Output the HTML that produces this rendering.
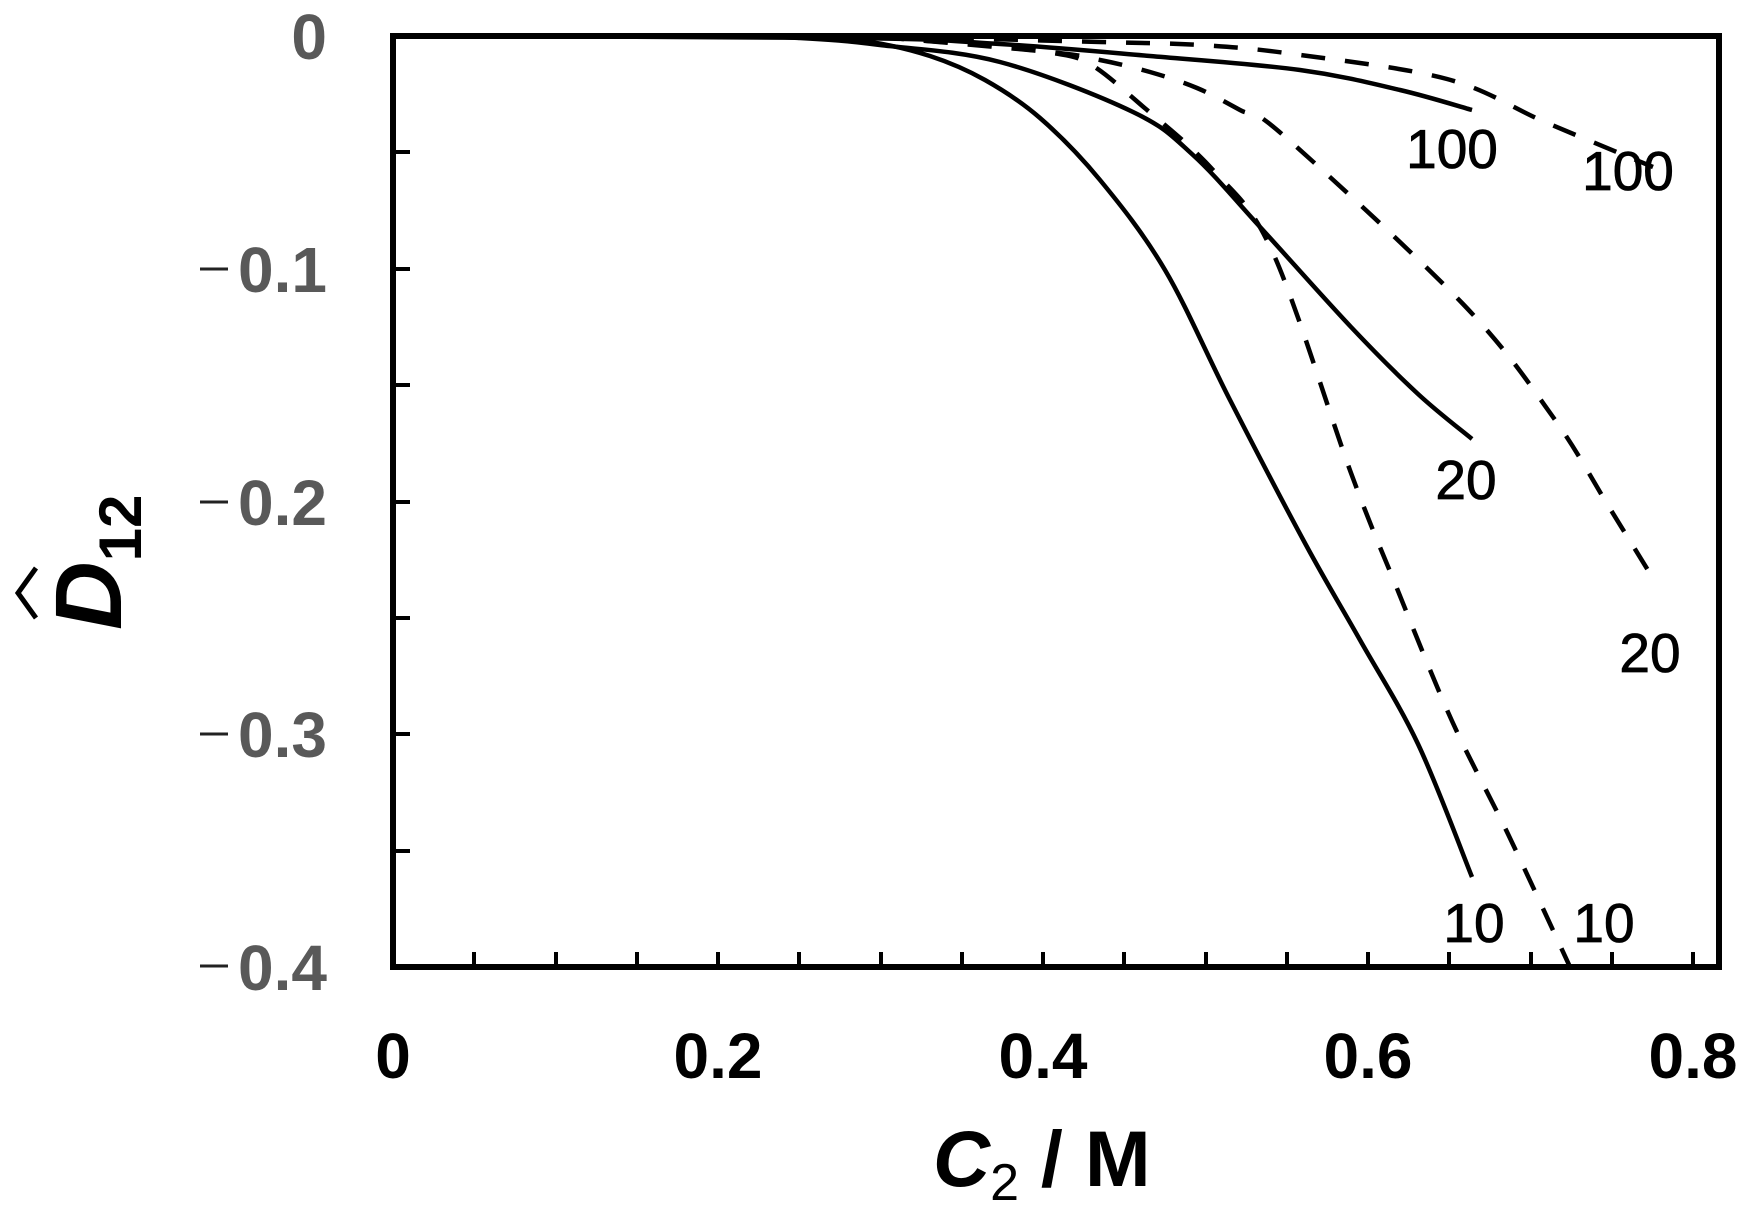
<!DOCTYPE html>
<html><head><meta charset="utf-8"><style>
html,body{margin:0;padding:0;background:#fff;}
svg{display:block;}
</style></head><body>
<svg width="1762" height="1220" viewBox="0 0 1762 1220" xmlns="http://www.w3.org/2000/svg">
<g fill="none" stroke="#000" stroke-width="4.5" stroke-linejoin="round" stroke-linecap="butt">
<path class="cr" data-p="393,36 700,36 800,37 870,42 930,56 985,80 1040,118 1100,180 1165,270 1230,400 1306,545 1360,640 1418,744 1472,877" d="M393,36 L700,36 L800,37 L870,42 L930,56 L985,80 L1040,118 L1100,180 L1165,270 L1230,400 L1306,545 L1360,640 L1418,744 L1472,877"/>
<path class="cr" data-p="393,36 700,36 800,38 880,45 1000,62 1133,112 1193,155 1261,228 1351,327 1418,394 1472,439" d="M393,36 L700,36 L800,38 L880,45 L1000,62 L1133,112 L1193,155 L1261,228 L1351,327 L1418,394 L1472,439"/>
<path class="cr" data-p="393,36 850,38 1000,44 1150,56 1300,70 1400,90 1472,110" d="M393,36 L850,38 L1000,44 L1150,56 L1300,70 L1400,90 L1472,110"/>
</g>
<g fill="none" stroke="#000" stroke-width="4.5" stroke-dasharray="24 20" stroke-linejoin="round">
<path class="cr" data-p="880,37 1000,47 1053,53 1090,64 1140,104 1213,170 1273,253 1351,473 1396,586 1452,721 1508,834 1570,967" d="M880,37 L1000,47 L1053,53 L1090,64 L1140,104 L1213,170 L1273,253 L1351,473 L1396,586 L1452,721 L1508,834 L1570,967"/>
<path class="cr" data-p="880,37 1050,52 1100,60 1150,72 1197,88 1240,110 1283,135 1463,304 1553,417 1609,507 1654,580" d="M880,37 L1050,52 L1100,60 L1150,72 L1197,88 L1240,110 L1283,135 L1463,304 L1553,417 L1609,507 L1654,580"/>
<path class="cr" data-p="950,38 1100,42 1200,45 1293,54 1447,79 1545,122 1653,167" d="M950,38 L1100,42 L1200,45 L1293,54 L1447,79 L1545,122 L1653,167"/>
</g>
<rect x="393" y="36" width="1326" height="931" fill="none" stroke="#000" stroke-width="6"/>
<g stroke="#000" stroke-width="4">
<line x1="393" y1="152" x2="410" y2="152"/>
<line x1="393" y1="269" x2="410" y2="269"/>
<line x1="393" y1="385" x2="410" y2="385"/>
<line x1="393" y1="502" x2="410" y2="502"/>
<line x1="393" y1="618" x2="410" y2="618"/>
<line x1="393" y1="734" x2="410" y2="734"/>
<line x1="393" y1="851" x2="410" y2="851"/>
<line x1="474" y1="967" x2="474" y2="952"/>
<line x1="556" y1="967" x2="556" y2="952"/>
<line x1="637" y1="967" x2="637" y2="952"/>
<line x1="718" y1="967" x2="718" y2="952"/>
<line x1="799" y1="967" x2="799" y2="952"/>
<line x1="881" y1="967" x2="881" y2="952"/>
<line x1="962" y1="967" x2="962" y2="952"/>
<line x1="1043" y1="967" x2="1043" y2="952"/>
<line x1="1124" y1="967" x2="1124" y2="952"/>
<line x1="1206" y1="967" x2="1206" y2="952"/>
<line x1="1287" y1="967" x2="1287" y2="952"/>
<line x1="1368" y1="967" x2="1368" y2="952"/>
<line x1="1449" y1="967" x2="1449" y2="952"/>
<line x1="1531" y1="967" x2="1531" y2="952"/>
<line x1="1612" y1="967" x2="1612" y2="952"/>
<line x1="1693" y1="967" x2="1693" y2="952"/>
</g>
<g font-family="Liberation Sans, sans-serif" font-weight="bold" font-size="64" fill="#595959" text-anchor="end">
<text x="327" y="59">0</text>
<text x="327" y="292">0.1</text>
<text x="327" y="525">0.2</text>
<text x="327" y="757">0.3</text>
<text x="327" y="990">0.4</text>
</g>
<g stroke="#222" stroke-width="3">
<line x1="200" y1="269" x2="228" y2="269"/>
<line x1="200" y1="502" x2="228" y2="502"/>
<line x1="200" y1="734" x2="228" y2="734"/>
<line x1="200" y1="966" x2="228" y2="966"/>
</g>
<g font-family="Liberation Sans, sans-serif" font-weight="bold" font-size="64" fill="#000" text-anchor="middle">
<text x="393" y="1078">0</text>
<text x="718" y="1078">0.2</text>
<text x="1043" y="1078">0.4</text>
<text x="1368" y="1078">0.6</text>
<text x="1693" y="1078">0.8</text>
</g>
<g font-family="Liberation Sans, sans-serif" font-size="55" fill="#000" text-anchor="middle" stroke="#000" stroke-width="0.8">
<text x="1452" y="168">100</text>
<text x="1628" y="190">100</text>
<text x="1466" y="499">20</text>
<text x="1650" y="672">20</text>
<text x="1474" y="942">10</text>
<text x="1604" y="942">10</text>
</g>
<text x="933" y="1186" font-family="Liberation Sans, sans-serif" font-weight="bold" font-size="79" fill="#000"><tspan font-style="italic">C</tspan><tspan font-size="52" dy="14" font-weight="normal">2</tspan><tspan dy="-14"> / M</tspan></text>
<text transform="translate(121,630) rotate(-90)" font-family="Liberation Sans, sans-serif" font-weight="bold" font-size="95" fill="#000"><tspan font-style="italic">D</tspan><tspan font-size="60" dy="20">12</tspan></text>
<polyline points="36,568 18,593 36,618" fill="none" stroke="#000" stroke-width="5"/>
</svg>
<script>
document.querySelectorAll('path.cr').forEach(function(el){
  var p=el.getAttribute('data-p').trim().split(/\s+/).map(function(s){var a=s.split(',');return [+a[0],+a[1]];});
  var d='M'+p[0][0]+','+p[0][1];
  for(var i=0;i<p.length-1;i++){
    var p0=p[i-1]||p[i],p1=p[i],p2=p[i+1],p3=p[i+2]||p[i+1];
    var c1=[p1[0]+(p2[0]-p0[0])/6,p1[1]+(p2[1]-p0[1])/6];
    var c2=[p2[0]-(p3[0]-p1[0])/6,p2[1]-(p3[1]-p1[1])/6];
    d+=' C'+c1[0].toFixed(1)+','+c1[1].toFixed(1)+' '+c2[0].toFixed(1)+','+c2[1].toFixed(1)+' '+p2[0]+','+p2[1];
  }
  el.setAttribute('d',d);
});
</script>
</body></html>
